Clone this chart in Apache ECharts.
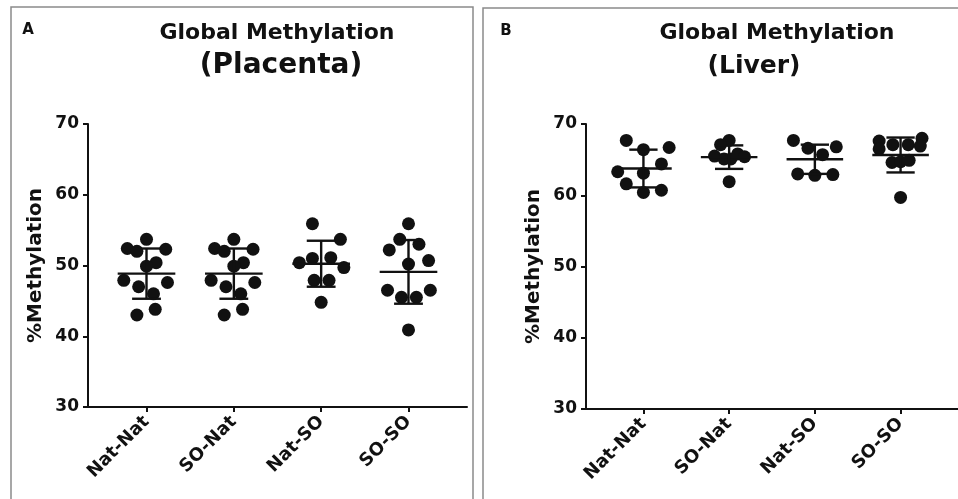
<!DOCTYPE html>
<html><head><meta charset="utf-8">
<script src="https://cdn.jsdelivr.net/npm/echarts@6/dist/echarts.min.js"></script>
<style>html,body{margin:0;padding:0;background:#fff}#c{width:958px;height:499px}</style>
</head><body><div id="c"></div>
<script>
const categories = ['Nat-Nat', 'SO-Nat', 'Nat-SO', 'SO-SO'];
const yTicks = [30, 40, 50, 60, 70];

// Panel A: Placenta (values in %Methylation, jitter = horizontal offset in category units)
const placentaNatNat = [53.7, 52.4, 52.0, 52.3, 50.4, 49.9, 47.9, 47.0, 47.6, 46.0, 43.8, 43.0];
const placentaNatNatJitter = [0, -0.22, -0.11, 0.22, 0.11, 0, -0.26, -0.09, 0.24, 0.08, 0.10, -0.11];
const placentaSONat = [53.7, 52.4, 52.0, 52.3, 50.4, 49.9, 47.9, 47.0, 47.6, 46.0, 43.8, 43.0];
const placentaSONatJitter = [0, -0.22, -0.11, 0.22, 0.11, 0, -0.26, -0.09, 0.24, 0.08, 0.10, -0.11];
const placentaNatSO = [55.9, 53.7, 50.4, 51.0, 51.1, 49.7, 47.9, 47.9, 44.8];
const placentaNatSOJitter = [-0.10, 0.22, -0.25, -0.10, 0.11, 0.26, -0.08, 0.09, 0];
const placentaSOSO = [55.9, 53.7, 53.0, 52.2, 50.2, 50.7, 46.5, 46.5, 45.5, 45.5, 40.9];
const placentaSOSOJitter = [0, -0.10, 0.12, -0.22, 0, 0.23, -0.24, 0.25, -0.08, 0.09, 0];
const placentaMean = [48.85, 48.85, 50.25, 49.1];
const placentaSD = [3.55, 3.55, 3.25, 4.5];

// Panel B: Liver
const liverNatNat = [67.7, 66.4, 66.7, 64.4, 63.3, 63.1, 61.6, 60.4, 60.7];
const liverNatNatJitter = [-0.20, 0, 0.30, 0.21, -0.30, 0, -0.20, 0, 0.21];
const liverSONat = [67.7, 67.1, 65.5, 65.1, 65.1, 65.8, 65.4, 61.9];
const liverSONatJitter = [0, -0.10, -0.17, -0.06, 0.02, 0.10, 0.18, 0];
const liverNatSO = [67.7, 66.6, 66.8, 65.7, 63.0, 62.8, 62.9];
const liverNatSOJitter = [-0.25, -0.08, 0.25, 0.09, -0.20, 0, 0.21];
const liverSOSO = [67.6, 66.5, 67.1, 67.1, 68.0, 66.9, 64.6, 64.7, 64.9, 59.7];
const liverSOSOJitter = [-0.25, -0.25, -0.09, 0.09, 0.25, 0.23, -0.10, 0, 0.10, 0];
const liverMean = [63.75, 65.35, 65.05, 65.65];
const liverSD = [2.65, 1.65, 2.05, 2.45];

const FONT = '"DejaVu Sans", sans-serif';

function points(groups) {
  const out = [];
  groups.forEach(function (g, i) {
    g[0].forEach(function (v, k) { out.push([i + 1 + g[1][k], v]); });
  });
  return out;
}
const placentaPoints = points([
  [placentaNatNat, placentaNatNatJitter], [placentaSONat, placentaSONatJitter],
  [placentaNatSO, placentaNatSOJitter], [placentaSOSO, placentaSOSOJitter]]);
const liverPoints = points([
  [liverNatNat, liverNatNatJitter], [liverSONat, liverSONatJitter],
  [liverNatSO, liverNatSOJitter], [liverSOSO, liverSOSOJitter]]);

function errData(means, sds) {
  return means.map(function (m, i) { return [i + 1, m, sds[i]]; });
}

function renderErr(params, api) {
  const x = api.value(0), m = api.value(1), s = api.value(2);
  const mL = api.coord([x - 0.33, m]), mR = api.coord([x + 0.33, m]);
  const top = api.coord([x, m + s]), bot = api.coord([x, m - s]);
  const tL = api.coord([x - 0.165, m + s]), tR = api.coord([x + 0.165, m + s]);
  const bL = api.coord([x - 0.165, m - s]), bR = api.coord([x + 0.165, m - s]);
  const st = { stroke: '#111', lineWidth: 2.4 };
  return {
    type: 'group',
    children: [
      { type: 'line', shape: { x1: mL[0], y1: mL[1], x2: mR[0], y2: mR[1] }, style: st },
      { type: 'line', shape: { x1: top[0], y1: top[1], x2: bot[0], y2: bot[1] }, style: st },
      { type: 'line', shape: { x1: tL[0], y1: tL[1], x2: tR[0], y2: tR[1] }, style: st },
      { type: 'line', shape: { x1: bL[0], y1: bL[1], x2: bR[0], y2: bR[1] }, style: st }
    ]
  };
}

function xAxis(gi) {
  return {
    type: 'value', gridIndex: gi, min: 0.33, max: 4.67,
    axisLine: { lineStyle: { color: '#111', width: 2 } },
    axisTick: { show: true, customValues: [1, 2, 3, 4], length: 5, lineStyle: { color: '#111', width: 2 } },
    axisLabel: {
      customValues: [1, 2, 3, 4], rotate: 45, margin: 12,
      formatter: function (v) { return categories[Math.round(v) - 1] || ''; },
      color: '#111', fontFamily: FONT, fontWeight: 'bold', fontSize: 18
    },
    splitLine: { show: false }
  };
}
function yAxis(gi) {
  return {
    type: 'value', gridIndex: gi, min: yTicks[0], max: yTicks[yTicks.length - 1], interval: 10,
    name: '%Methylation', nameLocation: 'middle', nameRotate: 90, nameGap: 42,
    nameTextStyle: { color: '#111', fontFamily: FONT, fontWeight: 'bold', fontSize: 20 },
    axisLine: { show: true, lineStyle: { color: '#111', width: 2 } },
    axisTick: { show: true, length: 5, lineStyle: { color: '#111', width: 2 } },
    axisLabel: { color: '#111', fontFamily: FONT, fontWeight: 'bold', fontSize: 17, margin: 9 },
    splitLine: { show: false }
  };
}

const chart = echarts.init(document.getElementById('c'));
chart.setOption({
  backgroundColor: '#fff',
  animation: false,
  grid: [
    { left: 88, top: 124, width: 379, height: 283 },
    { left: 586, top: 124, width: 379, height: 285 }
  ],
  xAxis: [xAxis(0), xAxis(1)],
  yAxis: [yAxis(0), yAxis(1)],
  graphic: [
    { type: 'rect', shape: { x: 11, y: 7, width: 462, height: 520 }, style: { fill: 'none', stroke: '#8a8a8a', lineWidth: 1.5 }, silent: true },
    { type: 'rect', shape: { x: 483, y: 8, width: 500, height: 520 }, style: { fill: 'none', stroke: '#8a8a8a', lineWidth: 1.5 }, silent: true },
    { type: 'text', x: 28, y: 30, style: { text: 'A', fill: '#111', font: 'bold 15px ' + FONT, textAlign: 'center', textVerticalAlign: 'middle' } },
    { type: 'text', x: 506, y: 31, style: { text: 'B', fill: '#111', font: 'bold 15px ' + FONT, textAlign: 'center', textVerticalAlign: 'middle' } },
    { type: 'text', x: 277, y: 33, style: { text: 'Global Methylation', fill: '#111', font: 'bold 22px ' + FONT, textAlign: 'center', textVerticalAlign: 'middle' } },
    { type: 'text', x: 281, y: 66, style: { text: '(Placenta)', fill: '#111', font: 'bold 28px ' + FONT, textAlign: 'center', textVerticalAlign: 'middle' } },
    { type: 'text', x: 777, y: 33, style: { text: 'Global Methylation', fill: '#111', font: 'bold 22px ' + FONT, textAlign: 'center', textVerticalAlign: 'middle' } },
    { type: 'text', x: 754, y: 66, style: { text: '(Liver)', fill: '#111', font: 'bold 25px ' + FONT, textAlign: 'center', textVerticalAlign: 'middle' } }
  ],
  series: [
    { type: 'scatter', xAxisIndex: 0, yAxisIndex: 0, data: placentaPoints, symbolSize: 13, itemStyle: { color: '#111', opacity: 1 } },
    { type: 'custom', xAxisIndex: 0, yAxisIndex: 0, data: errData(placentaMean, placentaSD), renderItem: renderErr, z: 3 },
    { type: 'scatter', xAxisIndex: 1, yAxisIndex: 1, data: liverPoints, symbolSize: 13, itemStyle: { color: '#111', opacity: 1 } },
    { type: 'custom', xAxisIndex: 1, yAxisIndex: 1, data: errData(liverMean, liverSD), renderItem: renderErr, z: 3 }
  ]
});
</script>
</body></html>
